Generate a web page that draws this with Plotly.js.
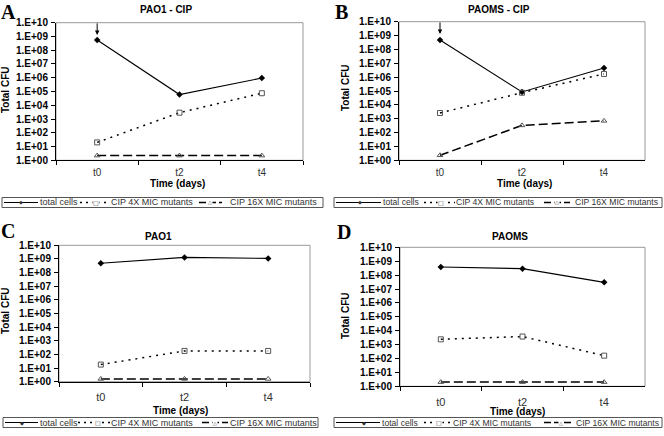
<!DOCTYPE html>
<html>
<head>
<meta charset="utf-8">
<script src="https://cdn.plot.ly/plotly-3.0.1.min.js"></script>
<style>html,body{margin:0;padding:0;background:#fff;}#chart{width:664px;height:436px;}</style>
</head>
<body>
<div id="chart"></div>
<script>
// ---------- data ----------
const timepoints = ['t0', 't2', 't4'];
const seriesNames = ['total cells', 'CIP 4X MIC mutants', 'CIP 16X MIC mutants'];
const panelTitles = ['PAO1 - CIP', 'PAOMS - CIP', 'PAO1', 'PAOMS'];
const panelLetters = ['A', 'B', 'C', 'D'];
const yTickValues = [1, 10, 100, 1e3, 1e4, 1e5, 1e6, 1e7, 1e8, 1e9, 1e10];
const yTickLabels = ['1.E+00', '1.E+01', '1.E+02', '1.E+03', '1.E+04', '1.E+05', '1.E+06', '1.E+07', '1.E+08', '1.E+09', '1.E+10'];

const totalA = [5.5e8, 6.0e4, 9.5e5];
const mic4A = [20, 2.9e3, 7.5e4];
const mic16A = [2.2, 2.2, 2.2];

const totalB = [4.8e8, 8.5e4, 4.6e6];
const mic4B = [2.6e3, 7.5e4, 1.7e6];
const mic16B = [2.3, 330, 700];

const totalC = [4.8e8, 1.3e9, 1.1e9];
const mic4C = [18, 180, 180];
const mic16C = [1.6, 1.6, 1.6];

const totalD = [3.8e8, 2.9e8, 3.0e7];
const mic4D = [2.4e3, 3.8e3, 160];
const mic16D = [2.0, 2.0, 2.0];

const arrowTipA = 1.3e9;   // treatment arrow at t0 (panels A and B)
const arrowTipB = 1.3e9;

// ---------- layout helpers ----------
const W = 664, H = 436;
const px = x => x / W;
const py = y => 1 - y / H;
const FONT = 'Liberation Sans, Arial, sans-serif';

const panels = [
  {total: totalA, m4: mic4A, m16: mic16A, xd: [56, 303], yd: [22.7, 160.3], tickFs: 10, standoff: 3},
  {total: totalB, m4: mic4B, m16: mic16B, xd: [399, 645], yd: [21.7, 160.3], tickFs: 10, standoff: 3},
  {total: totalC, m4: mic4C, m16: mic16C, xd: [59, 310], yd: [245.3, 381.7], tickFs: 11, standoff: 5},
  {total: totalD, m4: mic4D, m16: mic16D, xd: [400, 645], yd: [247.3, 386.3], tickFs: 11, standoff: 5}
];

const styles = [
  {line: {color: '#000', width: 1.1}, marker: {symbol: 'diamond', size: 5, color: '#000'}},
  {line: {color: '#000', width: 1.5, dash: '2px,5px'}, marker: {symbol: 'square-open', size: 5, color: '#555', line: {width: 1}}},
  {line: {color: '#000', width: 1.5, dash: '9px,4px'}, marker: {symbol: 'triangle-up-open', size: 5, color: '#555', line: {width: 1}}}
];

const data = [];
const layout = {
  width: W, height: H,
  margin: {l: 0, r: 0, t: 0, b: 0},
  paper_bgcolor: '#fff', plot_bgcolor: '#fff',
  showlegend: false,
  font: {family: FONT, color: '#000'},
  shapes: [], annotations: []
};

panels.forEach((p, i) => {
  const n = i === 0 ? '' : String(i + 1);
  const xa = 'x' + n, ya = 'y' + n;
  [p.total, p.m4, p.m16].forEach((vals, k) => {
    data.push({
      type: 'scatter', mode: 'lines+markers', x: timepoints, y: vals,
      xaxis: xa, yaxis: ya, name: seriesNames[k],
      line: styles[k].line, marker: styles[k].marker, cliponaxis: false
    });
  });
  layout['xaxis' + n] = {
    domain: [px(p.xd[0]), px(p.xd[1])], anchor: ya,
    type: 'category', range: [-0.5, 2.5], tickson: 'boundaries',
    showline: true, linecolor: '#000', linewidth: 1,
    ticks: 'outside', ticklen: 4, tickcolor: '#000', tickwidth: 1,
    showgrid: false, zeroline: false, fixedrange: true,
    tickfont: {family: FONT, size: p.tickFs, color: '#333'},
    ticklabelstandoff: p.standoff
  };
  layout['yaxis' + n] = {
    domain: [py(p.yd[1]), py(p.yd[0])], anchor: xa,
    type: 'log', range: [0, 10],
    tickvals: yTickValues, ticktext: yTickLabels,
    showline: true, linecolor: '#000', linewidth: 1,
    ticks: 'outside', ticklen: 4, tickcolor: '#000', tickwidth: 1,
    showgrid: false, zeroline: false, fixedrange: true,
    tickfont: {family: FONT, size: 10, color: '#000', weight: 'bold'},
    ticklabelstandoff: 1
  };
  // grey plot-area frame (top/right)
  layout.shapes.push({type: 'rect', xref: xa + ' domain', yref: ya + ' domain', x0: 0, x1: 1, y0: 0, y1: 1,
    line: {color: '#999', width: 1}, layer: 'below'});
});

// treatment arrows
[[arrowTipA, 'x', 'y'], [arrowTipB, 'x2', 'y2']].forEach(([tip, xr, yr]) => {
  layout.annotations.push({x: timepoints[0], y: Math.log10(tip), xref: xr, yref: yr, text: '',
    showarrow: true, ax: 0, ay: -13, arrowhead: 2, arrowsize: 0.9, arrowwidth: 1, arrowcolor: '#000'});
});

// text annotations
function ann(text, x, y, opts) {
  layout.annotations.push(Object.assign({text, x: px(x), y: py(y), xref: 'paper', yref: 'paper',
    showarrow: false, xanchor: 'center', yanchor: 'middle'}, opts || {}));
}
const letterFont = {family: 'Liberation Serif, Times New Roman, serif', size: 20, weight: 'bold', color: '#000'};
ann(panelLetters[0], 0, 0, {xanchor: 'left', yanchor: 'top', borderpad: 0, font: letterFont});
ann(panelLetters[1], 334, 0, {xanchor: 'left', yanchor: 'top', borderpad: 0, font: letterFont});
ann(panelLetters[2], 0, 219, {xanchor: 'left', yanchor: 'top', borderpad: 0, font: letterFont});
ann(panelLetters[3], 336, 220, {xanchor: 'left', yanchor: 'top', borderpad: 0, font: letterFont});

const titleFont = {family: FONT, size: 10, weight: 'bold', color: '#000'};
ann(panelTitles[0], 166, 10, {font: titleFont});
ann(panelTitles[1], 499, 10, {font: titleFont});
ann(panelTitles[2], 158, 236, {font: titleFont});
ann(panelTitles[3], 510, 236, {font: titleFont});

const axFont = {family: FONT, size: 10, weight: 'bold', color: '#000'};
ann('Total CFU', 5, 90, {font: axFont, textangle: -90});
ann('Total CFU', 345, 88, {font: axFont, textangle: -90});
ann('Total CFU', 5, 311, {font: axFont, textangle: -90});
ann('Total CFU', 345, 316, {font: axFont, textangle: -90});
ann('Time (days)', 177, 183, {font: axFont});
ann('Time (days)', 524, 183, {font: axFont});
ann('Time (days)', 180, 410, {font: axFont});
ann('Time (days)', 517, 411, {font: axFont});

// legends (boxes with line samples)
function legend(x0, x1, yt, yb, fs, L) {
  const yc = (yt + yb) / 2;
  const legFont = {family: FONT, size: fs, color: '#333'};
  layout.shapes.push({type: 'rect', xref: 'paper', yref: 'paper', x0: px(x0), x1: px(x1), y0: py(yb), y1: py(yt),
    line: {color: '#555', width: 1}, fillcolor: '#fff'});
  const samples = [
    {seg: L.l1, mk: L.m1, tx: L.t1, dash: 'solid', w: 1.1, glyph: '\u25C6', gs: 5},
    {seg: L.l2, mk: L.m2, tx: L.t2, dash: '2px,4px', w: 1.3, glyph: '\u25A1', gs: 6},
    {seg: L.l3, mk: L.m3, tx: L.t3, dash: '7px,3px', w: 1.5, glyph: '\u25B3', gs: 5}
  ];
  samples.forEach((s, k) => {
    layout.shapes.push({type: 'line', xref: 'paper', yref: 'paper', x0: px(s.seg[0]), x1: px(s.seg[1]),
      y0: py(yc), y1: py(yc), line: {color: '#000', width: s.w, dash: s.dash}});
    layout.annotations.push({text: s.glyph, x: px(s.mk), y: py(yc), xref: 'paper', yref: 'paper', showarrow: false,
      xanchor: 'center', yanchor: 'middle', bgcolor: k === 0 ? 'rgba(0,0,0,0)' : '#fff', borderpad: 0,
      font: {family: 'DejaVu Sans, sans-serif', size: s.gs, color: '#333'}});
    ann(seriesNames[k], s.tx, yc, {xanchor: 'left', borderpad: 0, font: legFont});
  });
}
legend(2, 323, 197.5, 207.5, 9, {l1: [4, 38], m1: 21, t1: 39, l2: [80, 110], m2: 96, t2: 110, l3: [199, 222], m3: 210, t3: 229});
legend(334, 662, 197.5, 207.5, 8.6, {l1: [336, 381], m1: 360, t1: 382, l2: [424, 455], m2: 441, t2: 455, l3: [544, 570], m3: 557, t3: 574});
legend(3, 318, 417.5, 427.5, 9, {l1: [5, 38], m1: 22, t1: 39, l2: [78, 110], m2: 98, t2: 110, l3: [202, 228], m3: 215, t3: 229});
legend(334, 662, 417.5, 427.5, 8.6, {l1: [336, 380], m1: 364, t1: 381, l2: [424, 452], m2: 439, t2: 452, l3: [544, 574], m3: 561, t3: 575});

Plotly.newPlot('chart', data, layout, {displayModeBar: false, staticPlot: true});
</script>
</body>
</html>
